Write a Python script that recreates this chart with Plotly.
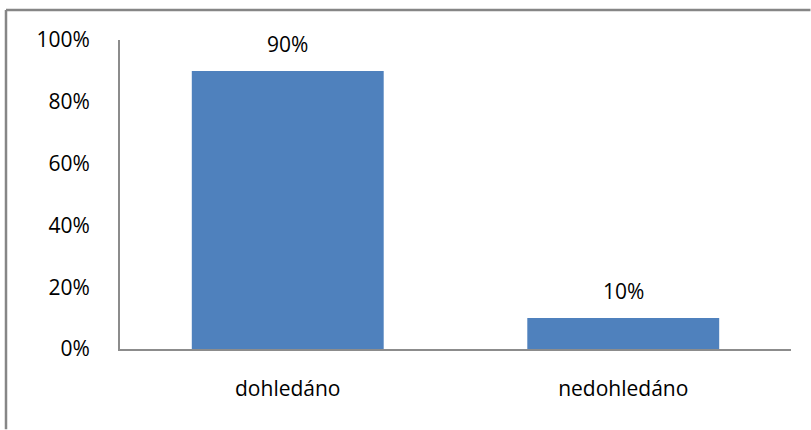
import plotly.graph_objects as go

categories = ["dohledáno", "nedohledáno"]
values = [90, 10]
labels = ["90%", "10%"]
y_ticks = [0, 20, 40, 60, 80, 100]
y_tick_labels = ["0%", "20%", "40%", "60%", "80%", "100%"]

FONT = dict(family="Open Sans", size=21, color="#000000")

fig = go.Figure()
fig.add_trace(go.Bar(
    x=categories, y=values,
    marker=dict(color="#4F81BD", line=dict(width=0)),
    hoverinfo="skip",
))

for c, v, t in zip(categories, values, labels):
    fig.add_annotation(x=c, y=v, text=t, showarrow=False, yshift=27,
                       font=FONT, xref="x", yref="y")

# outer chart-area border (right and bottom edges fall outside the frame)
fig.add_shape(type="line", xref="paper", yref="paper",
              x0=-0.1699, x1=-0.1699, y0=-0.26, y1=1.097,
              line=dict(color="#868686", width=2.5))
fig.add_shape(type="line", xref="paper", yref="paper",
              x0=-0.1699, x1=1.029, y0=1.097, y1=1.097,
              line=dict(color="#868686", width=2.5))

fig.update_layout(
    width=811, height=430,
    margin=dict(l=120, r=20, t=40, b=81),
    paper_bgcolor="white", plot_bgcolor="white",
    bargap=0.428,
    showlegend=False,
    font=FONT,
)
fig.update_xaxes(
    showline=True, linecolor="#8c8c8c", linewidth=2,
    showgrid=False, ticks="", tickfont=FONT, ticklabelstandoff=20,
)
fig.update_yaxes(
    range=[0, 100], tickvals=y_ticks, ticktext=y_tick_labels,
    showline=True, linecolor="#8c8c8c", linewidth=2,
    showgrid=False, zeroline=False, ticks="", tickfont=FONT,
    ticklabelstandoff=24,
)

fig.write_html("out.html")
